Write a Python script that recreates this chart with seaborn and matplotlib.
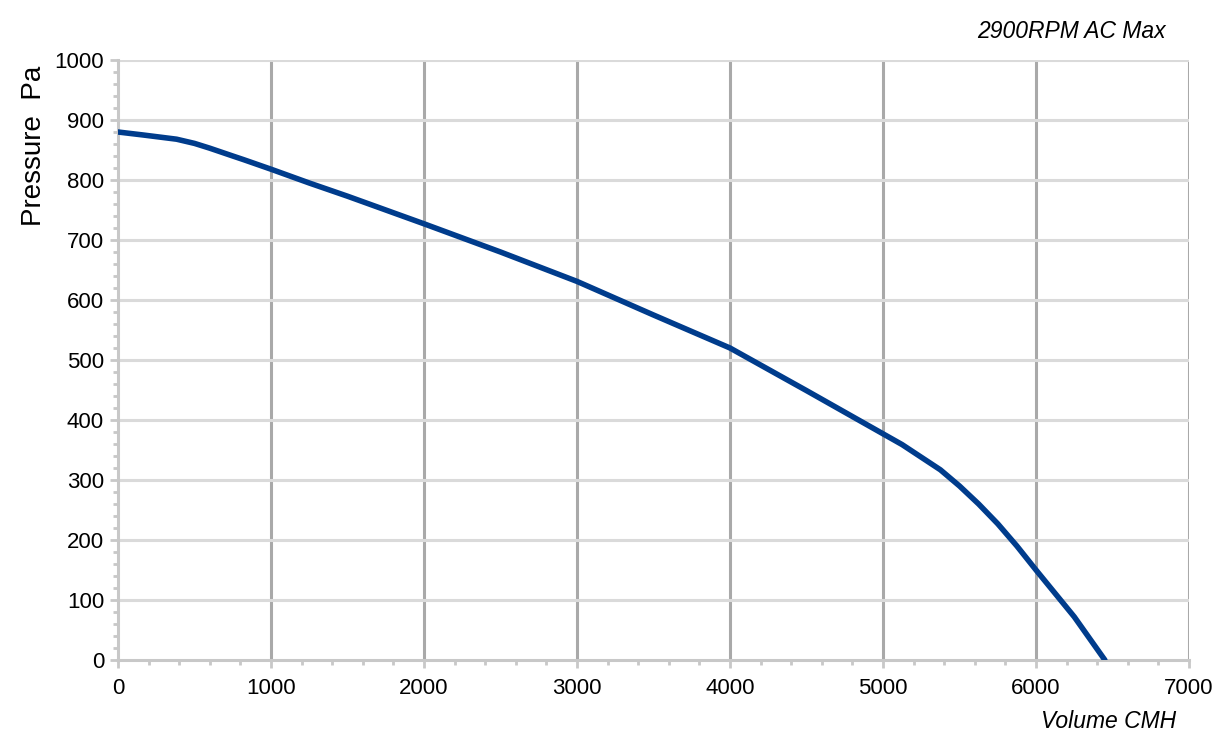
import matplotlib
matplotlib.use("Agg")
import matplotlib.pyplot as plt
from matplotlib.ticker import MultipleLocator
import seaborn as sns
import pandas as pd

volume_cmh = [0, 165, 383, 500, 600, 750, 820, 1000, 1250, 1500, 2000, 2500, 3000, 3500, 4000, 4500,
              5000, 5125, 5250, 5375, 5500, 5625, 5750, 5875, 6000, 6250, 6450]
pressure_pa = [880, 875, 868, 861, 853, 840, 834, 818, 795, 773, 727, 680, 631, 575, 520, 449,
               377, 359, 338, 317, 290, 260, 227, 190, 150, 72, 0]

title_text = "2900RPM AC Max"
x_label = "Volume CMH"
y_label = "Pressure  Pa"

sns.set_theme(style="white")
plt.rcParams['font.family'] = ['Liberation Sans', 'DejaVu Sans']
plt.rcParams['text.color'] = 'black'

df = pd.DataFrame({"volume": volume_cmh, "pressure": pressure_pa})

fig = plt.figure(figsize=(12.3, 7.51), dpi=100)
ax = fig.add_axes([118/1230, 91/751, (1189-118)/1230, 600/751])

ax.set_xlim(0, 7000)
ax.set_ylim(0, 1000)
ax.xaxis.set_major_locator(MultipleLocator(1000))
ax.xaxis.set_minor_locator(MultipleLocator(200))
ax.yaxis.set_major_locator(MultipleLocator(100))
ax.yaxis.set_minor_locator(MultipleLocator(20))

ax.grid(False)
for v in range(1000, 7001, 1000):
    ax.axvline(v, color="#a9a9a9", lw=2.2, zorder=1)
for h in range(100, 1001, 100):
    ax.axhline(h, color="#dadada", lw=2.2, zorder=1)

sns.lineplot(data=df, x="volume", y="pressure", ax=ax, color="#003c8c", lw=4.0,
             solid_capstyle="round", solid_joinstyle="round", zorder=3)

for s in ["top", "right"]:
    ax.spines[s].set_visible(False)
for s in ["left", "bottom"]:
    ax.spines[s].set_color("#c8c8c8")
    ax.spines[s].set_linewidth(2.2)

ax.tick_params(axis="both", which="both", bottom=True, left=True, top=False, right=False)
ax.tick_params(axis="both", which="major", length=6, width=2, color="#c8c8c8",
               labelsize=16, labelcolor="black", direction="out", pad=4)
ax.tick_params(axis="both", which="minor", length=3.5, width=2, color="#c8c8c8", direction="out")
ax.tick_params(axis="x", which="major", pad=7)

ax.set_xlabel("")
ax.set_ylabel("")
fig.text(34/1230, 1 - 146/751, y_label, rotation=90, ha="center", va="center", fontsize=20, color="black")
fig.text(1166/1230, 1 - 31/751, title_text, ha="right", va="center", fontsize=16.5, style="italic", color="black")
fig.text(1176/1230, 1 - 722/751, x_label, ha="right", va="center", fontsize=16.5, style="italic", color="black")

fig.savefig("out.png", dpi=100)
